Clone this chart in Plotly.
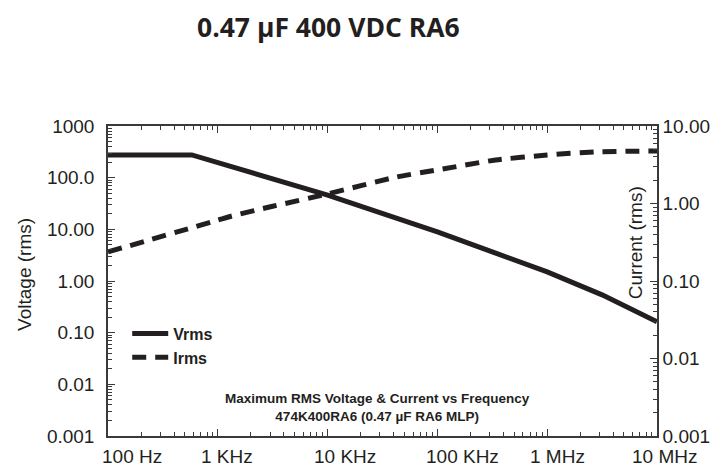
import math
import plotly.graph_objects as go

# ---- data ----
freq_v = [100, 580, 10000, 31600, 100000, 316000, 1000000, 3160000, 10000000]
vrms = [275, 275, 46, 20.7, 8.9, 3.65, 1.5, 0.54, 0.162]

freq_i = [100, 1000, 1340, 3160, 10000, 42700, 100000, 339000, 1000000, 2700000, 10000000]
irms = [0.237, 0.61, 0.69, 0.92, 1.33, 2.20, 2.71, 3.64, 4.22, 4.63, 4.76]

x_tickvals = [100, 1000, 10000, 100000, 1000000, 10000000]
x_ticktext = ["100 Hz", "1 KHz", "10 KHz", "100 KHz", "1 MHz", "10 MHz"]
x_label_shift = [24, 9, 17, 25, 10, 7]

v_tickvals = [1000, 100, 10, 1, 0.1, 0.01, 0.001]
v_ticktext = ["1000", "100.0", "10.00", "1.00", "0.10", "0.01", "0.001"]

i_tickvals = [10, 1, 0.1, 0.01, 0.001]
i_ticktext = ["10.00", "1.00", "0.10", "0.01", "0.001"]

title = "0.47 µF 400 VDC RA6"
note = "Maximum RMS Voltage & Current vs Frequency<br>474K400RA6 (0.47 µF RA6 MLP)"

INK = "#231f20"
AX = "#3a3a3a"
TICKFONT = dict(family="Liberation Sans, Arial, sans-serif", size=19, color=INK)


def minor_vals(e0, e1):
    return [m * 10.0 ** e for e in range(e0, e1) for m in range(2, 10)]


fig = go.Figure()
fig.add_trace(go.Scatter(x=freq_v, y=vrms, name="<b>Vrms</b>", mode="lines",
                         line=dict(color=INK, width=5), xaxis="x", yaxis="y"))
fig.add_trace(go.Scatter(x=freq_i, y=irms, name="<b>Irms</b>", mode="lines",
                         line=dict(color=INK, width=5, dash="14px,9px",
                                   shape="spline", smoothing=0.6),
                         xaxis="x", yaxis="y2"))
# empty helper traces so that the minor-tick overlay axes are rendered
fig.add_trace(go.Scatter(x=[], y=[], xaxis="x2", yaxis="y3", showlegend=False, hoverinfo="skip"))
fig.add_trace(go.Scatter(x=[], y=[], xaxis="x2", yaxis="y4", showlegend=False, hoverinfo="skip"))

minor_style = dict(ticks="inside", ticklen=4, tickcolor=AX, tickwidth=1, showline=False,
                   showticklabels=False, showgrid=False, zeroline=False, tickmode="array")

fig.update_layout(
    width=722, height=466,
    margin=dict(l=108, r=59, t=126, b=30),
    paper_bgcolor="white", plot_bgcolor="white",
    showlegend=True,
    legend=dict(x=0.035, y=0.385, xanchor="left", yanchor="top",
                bgcolor="rgba(0,0,0,0)", borderwidth=0,
                font=dict(family="Liberation Sans, Arial, sans-serif", size=16, color=INK),
                itemwidth=36, tracegroupgap=0),
    xaxis=dict(type="log", range=[2, 7], showline=True, linecolor=AX, linewidth=1.5,
               mirror="ticks", ticks="inside", ticklen=7, tickcolor=AX, tickwidth=1.3,
               tickvals=x_tickvals, showticklabels=False, showgrid=False, zeroline=False),
    xaxis2=dict(type="log", range=[2, 7], overlaying="x", anchor="y", mirror="ticks",
                tickvals=minor_vals(2, 7), **minor_style),
    yaxis=dict(type="log", range=[-3, 3], showline=True, linecolor=AX, linewidth=1.5,
               ticks="inside", ticklen=7, tickcolor=AX, tickwidth=1.3,
               tickvals=v_tickvals, ticktext=v_ticktext, tickfont=TICKFONT,
               ticklabelstandoff=8, showgrid=False, zeroline=False),
    yaxis2=dict(type="log", range=[-3, 1], overlaying="y", side="right",
                showline=True, linecolor=AX, linewidth=1.5,
                ticks="inside", ticklen=7, tickcolor=AX, tickwidth=1.3,
                tickvals=i_tickvals, ticktext=i_ticktext, tickfont=TICKFONT,
                showgrid=False, zeroline=False),
    yaxis3=dict(type="log", range=[-3, 3], overlaying="y", side="left", anchor="x",
                tickvals=minor_vals(-3, 3), **minor_style),
    yaxis4=dict(type="log", range=[-3, 1], overlaying="y", side="right", anchor="x",
                tickvals=minor_vals(-3, 1), **minor_style),
)

annotations = [
    dict(text="<b>" + title + "</b>", xref="paper", yref="paper", x=(331 - 108) / 555,
         y=1 + (126 - 27) / 310, xanchor="center", yanchor="middle", showarrow=False,
         font=dict(family="Open Sans, sans-serif", size=26.5, color=INK)),
    dict(text="Voltage (rms)", xref="paper", yref="paper", x=(23 - 108) / 555,
         y=(436 - 274) / 310, xanchor="center", yanchor="middle", textangle=-90,
         showarrow=False, font=dict(family="Liberation Sans, Arial, sans-serif", size=19, color=INK)),
    dict(text="Current (rms)", xref="paper", yref="paper", x=(641 - 108) / 555,
         y=(436 - 243) / 310, xanchor="center", yanchor="middle", textangle=-90,
         showarrow=False, font=dict(family="Liberation Sans, Arial, sans-serif", size=19, color=INK)),
    dict(text="<b>" + note + "</b>", xref="paper", yref="paper", x=(380 - 108) / 555,
         y=(436 - 407) / 310, xanchor="center", yanchor="middle", showarrow=False,
         align="center",
         font=dict(family="Liberation Sans, Arial, sans-serif", size=13.5, color=INK)),
]
for v, t, s in zip(x_tickvals, x_ticktext, x_label_shift):
    annotations.append(dict(text=t, xref="x", yref="paper", x=math.log10(v), y=0,
                            yanchor="top", xanchor="center", xshift=s, yshift=-8,
                            showarrow=False, font=TICKFONT))
fig.update_layout(annotations=annotations)

fig.write_html("out.html")
